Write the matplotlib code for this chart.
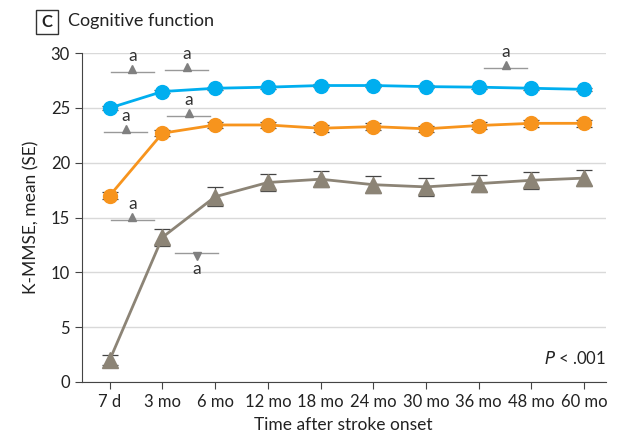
import numpy as np
import matplotlib.pyplot as plt
from matplotlib.patches import Rectangle

plt.rcParams['font.family'] = ['Lato', 'DejaVu Sans']

# data
time_labels = ['7 d', '3 mo', '6 mo', '12 mo', '18 mo', '24 mo', '30 mo', '36 mo', '48 mo', '60 mo']
blue_mean = [25.0, 26.5, 26.8, 26.9, 27.05, 27.05, 26.95, 26.9, 26.8, 26.7]
blue_se = [0.15, 0.15, 0.15, 0.15, 0.15, 0.15, 0.15, 0.15, 0.15, 0.15]
orange_mean = [17.0, 22.7, 23.45, 23.45, 23.15, 23.3, 23.1, 23.4, 23.6, 23.6]
orange_se = [0.3, 0.3, 0.3, 0.3, 0.3, 0.3, 0.3, 0.3, 0.3, 0.3]
gray_mean = [2.0, 13.2, 16.9, 18.2, 18.5, 18.0, 17.8, 18.1, 18.4, 18.6]
gray_se = [0.5, 0.8, 0.85, 0.8, 0.75, 0.75, 0.8, 0.75, 0.8, 0.75]

# significance marks: x center, y of line, direction
sig_x = [0.43, 1.46, 0.30, 1.50, 0.43, 1.65, 7.51]
sig_y = [28.25, 28.45, 22.8, 24.25, 14.75, 11.8, 28.65]
sig_dir = ['^', '^', '^', '^', '^', 'v', '^']

blue = '#00AEEF'
orange = '#F7941D'
taupe = '#8C8476'

fig = plt.figure(figsize=(6.29, 4.36), dpi=100)
ax = fig.add_axes([0.130, 0.124, 0.833, 0.754])

x = np.arange(len(time_labels))
for y, se, c, m, ms in [(gray_mean, gray_se, taupe, '^', 12),
                        (orange_mean, orange_se, orange, 'o', 10),
                        (blue_mean, blue_se, blue, 'o', 10)]:
    ax.errorbar(x, y, yerr=se, fmt='none', ecolor='#444444', elinewidth=0.8,
                capsize=6, capthick=0.9, zorder=2)
    ax.plot(x, y, color=c, lw=2, marker=m, markersize=ms, zorder=3)

for sx, sy, d in zip(sig_x, sig_y, sig_dir):
    ax.plot([sx - 0.41, sx + 0.41], [sy, sy], color='#999999', lw=1, zorder=1)
    ax.plot(sx, sy + (0.3 if d == '^' else -0.3), marker=d, color='#808080',
            markersize=6, zorder=1)
    ty = sy + 1.45 if d == '^' else sy - 1.5
    ax.text(sx, ty, 'a', ha='center', va='center', fontsize=12.5, color='#333333')

ax.text(9.41, 2.1, '$P$ < .001', ha='right', va='center', fontsize=12, color='#222222')

ax.set_xlim(-0.53, 9.41)
ax.set_ylim(0, 30)
ax.set_yticks([0, 5, 10, 15, 20, 25, 30])
ax.set_xticks(x)
ax.set_xticklabels(time_labels)
ax.yaxis.grid(True, color='#d9d9d9', lw=1)
ax.set_axisbelow(True)
for s in ['top', 'right']:
    ax.spines[s].set_visible(False)
for s in ['left', 'bottom']:
    ax.spines[s].set_color('#444444')
ax.tick_params(axis='both', labelsize=12, colors='#222222', length=5, color='#444444')
ax.set_xlabel('Time after stroke onset', fontsize=12.5, color='#222222', labelpad=5)
ax.set_ylabel('K-MMSE, mean (SE)', fontsize=12.5, color='#222222', labelpad=8)

fig.patches.append(Rectangle((36 / 629, 1 - 34 / 436), 22 / 629, 24 / 436,
                             transform=fig.transFigure, fill=False,
                             edgecolor='#333333', lw=1))
fig.text(47 / 629, 1 - 22 / 436, 'C', ha='center', va='center', fontsize=12,
         fontweight='bold', color='#222222')
fig.text(68 / 629, 1 - 21 / 436, 'Cognitive function', ha='left', va='center',
         fontsize=13, color='#222222')

fig.savefig('out.png', dpi=100)
